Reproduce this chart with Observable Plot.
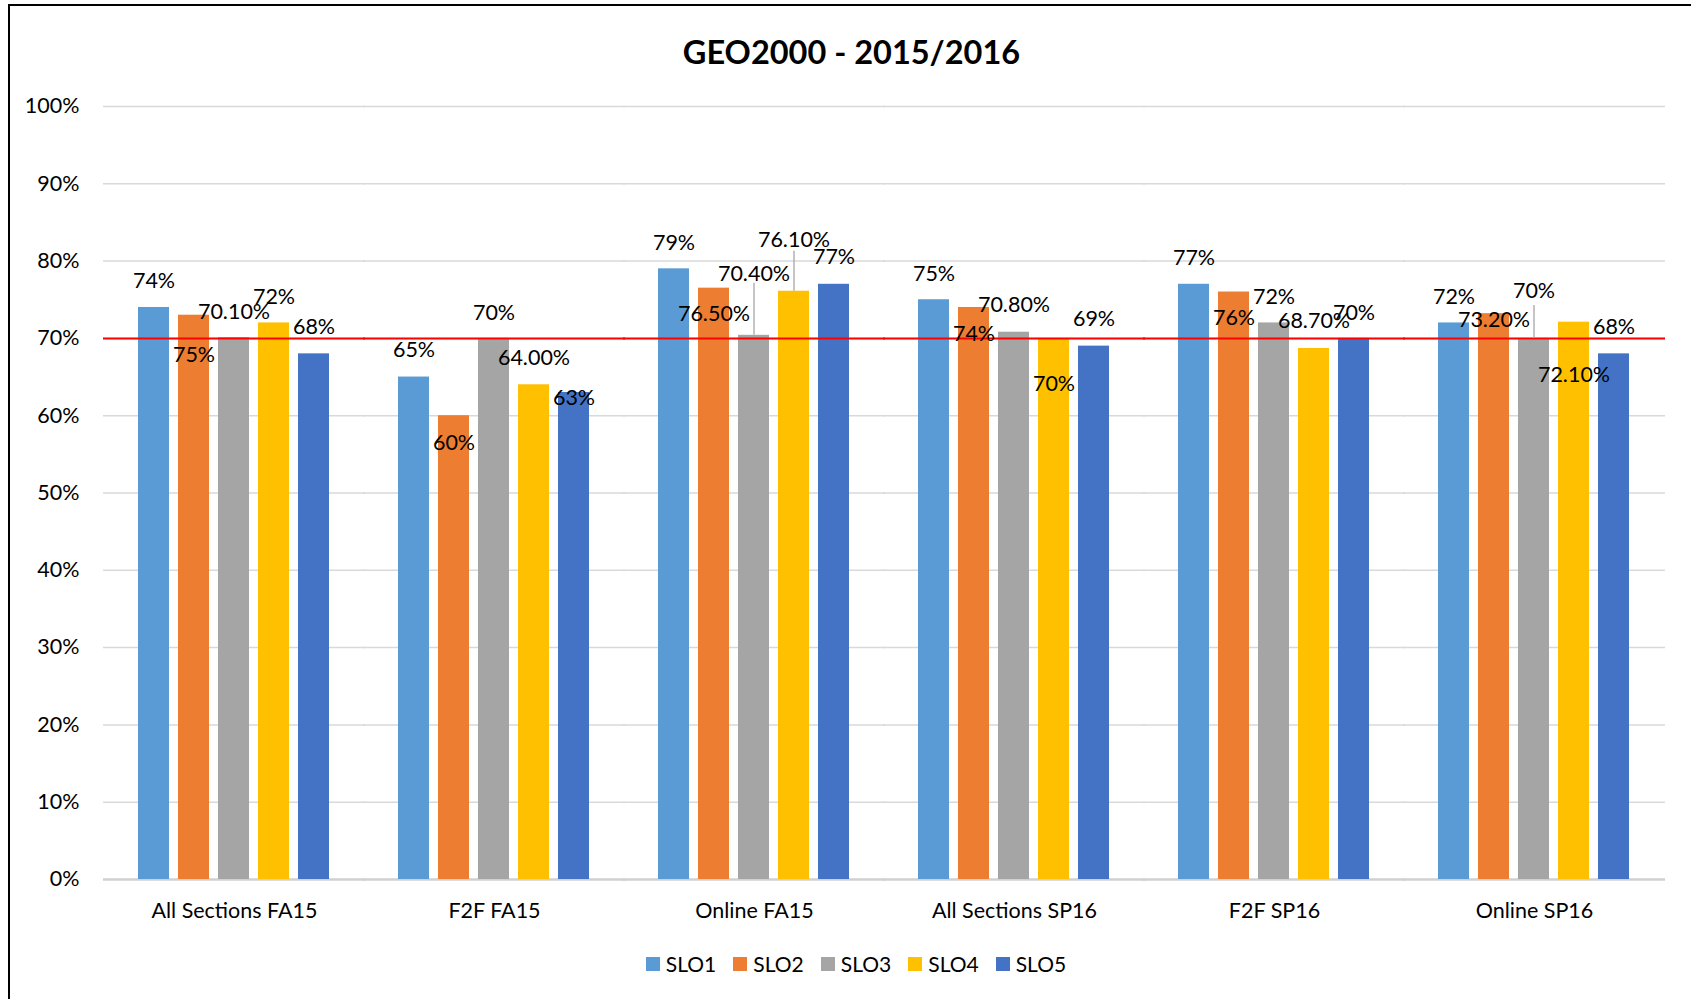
<!DOCTYPE html>
<html>
<head>
<meta charset="utf-8">
<script src="https://cdn.jsdelivr.net/npm/d3@7"></script>
<script src="https://cdn.jsdelivr.net/npm/@observablehq/plot@0.6"></script>
<style>
  html, body { margin: 0; padding: 0; background: #fff; }
  body { width: 1691px; height: 999px; position: relative; overflow: hidden; font-family: Lato, "Open Sans", sans-serif; }
  #frame { position: absolute; left: 8px; top: 4px; width: 1700px; height: 1010px; border-left: 2px solid #000; border-top: 2px solid #000; }
  #title { position: absolute; left: 0; width: 1703px; top: 32px; text-align: center; font-weight: bold; font-size: 32.5px; color: #000; }
  #chart { position: absolute; left: 0; top: 80px; }
  #legend { position: absolute; left: 0; width: 1712px; top: 951px; display: flex; justify-content: center; gap: 17px; font-size: 21px; color: #000; }
  #legend .item { display: flex; align-items: center; gap: 6px; }
  #legend .sw { width: 14px; height: 14px; display: inline-block; }
</style>
</head>
<body>
<div id="frame"></div>
<div id="title">GEO2000 - 2015/2016</div>
<div id="chart"></div>
<div id="legend"></div>
<script>
// ---- data ----
const groups = ["All Sections FA15", "F2F FA15", "Online FA15", "All Sections SP16", "F2F SP16", "Online SP16"];
const slos = ["SLO1", "SLO2", "SLO3", "SLO4", "SLO5"];
const slo1 = [74, 65, 79, 75, 77, 72];
const slo2 = [73, 60, 76.5, 74, 76, 73.2];
const slo3 = [70.1, 70, 70.4, 70.8, 72, 70];
const slo4 = [72, 64, 76.1, 70, 68.7, 72.1];
const slo5 = [68, 63, 77, 69, 70, 68];
const labels1 = ["74%", "65%", "79%", "75%", "77%", "72%"];
const labels2 = ["75%", "60%", "76.50%", "74%", "76%", "73.20%"];
const labels3 = ["70.10%", "70%", "70.40%", "70.80%", "72%", "70%"];
const labels4 = ["72%", "64.00%", "76.10%", "70%", "68.70%", "72.10%"];
const labels5 = ["68%", "63%", "77%", "69%", "70%", "68%"];
const target = 70;
const yTicks = [0, 10, 20, 30, 40, 50, 60, 70, 80, 90, 100];

// ---- layout / styling (label offsets in px, relative to bar top) ----
const colors = ["#5b9bd5", "#ed7d31", "#a5a5a5", "#ffc000", "#4472c4"];
const labelDy = [
  [-26, -27, -26, -26, -26, -26],   // SLO1
  [ 40,  27,  26,  27,  26,   6],   // SLO2
  [-26, -25, -61, -27, -26, -47],   // SLO3
  [-26, -27, -51,  46, -27,  53],   // SLO4
  [-27,   6, -27, -27, -25, -27]    // SLO5
];
const leaders = [ // [group index, slo index, length px]
  [2, 2, 52], [2, 3, 40], [5, 2, 33]
];
const facetGap = 31; // half the gap between facets, in px, to make lines continuous

const series = [slo1, slo2, slo3, slo4, slo5];
const labelSets = [labels1, labels2, labels3, labels4, labels5];
const rows = [];
slos.forEach((s, si) => groups.forEach((g, gi) => rows.push({
  group: g, slo: s, value: series[si][gi], label: labelSets[si][gi], dy: labelDy[si][gi]
})));

const textMarks = d3.groups(rows, d => d.dy).map(([dy, rs]) =>
  Plot.text(rs, {fx: "group", x: "slo", y: "value", text: "label", dy, fill: "#000", fontSize: 21.5}));

const leaderMarks = leaders.map(([gi, si, len]) =>
  Plot.ruleX([{group: groups[gi], slo: slos[si], value: series[si][gi]}],
    {fx: "group", x: "slo", y1: "value", y2: "value", insetTop: -len, stroke: "#a6a6a6", strokeWidth: 1.3}));

const chart = Plot.plot({
  width: 1691,
  height: 870,
  marginTop: 26,
  marginBottom: 71,
  marginLeft: 103,
  marginRight: 26,
  style: {fontFamily: "Lato, 'Open Sans', sans-serif", fontSize: "21.5px", color: "#000", background: "transparent"},
  fx: {domain: groups, paddingInner: 0.23, paddingOuter: 0.115, label: null, tickSize: 0, tickPadding: 23},
  x: {domain: slos, axis: null, paddingInner: 0.22, paddingOuter: 0.1},
  y: {domain: [0, 100], ticks: yTicks, tickFormat: d => d + "%", tickSize: 0, tickPadding: 55, label: null},
  color: {domain: slos, range: colors},
  marks: [
    Plot.ruleY(yTicks.filter(d => d > 0), {y: d => d, stroke: "#d9d9d9", strokeWidth: 1.5, insetLeft: -facetGap, insetRight: -facetGap}),
    Plot.ruleY([0], {stroke: "#d0d0d0", strokeWidth: 2.5, insetLeft: -facetGap, insetRight: -facetGap}),
    Plot.barY(rows, {fx: "group", x: "slo", y: "value", fill: "slo"}),
    Plot.ruleY([target], {stroke: "#ff0000", strokeWidth: 2, insetLeft: -facetGap, insetRight: -facetGap}),
    ...leaderMarks,
    ...textMarks
  ]
});
document.getElementById("chart").appendChild(chart);

const legend = document.getElementById("legend");
slos.forEach((s, i) => {
  const it = document.createElement("div");
  it.className = "item";
  it.innerHTML = `<span class="sw" style="background:${colors[i]}"></span><span>${s}</span>`;
  legend.appendChild(it);
});
</script>
</body>
</html>
